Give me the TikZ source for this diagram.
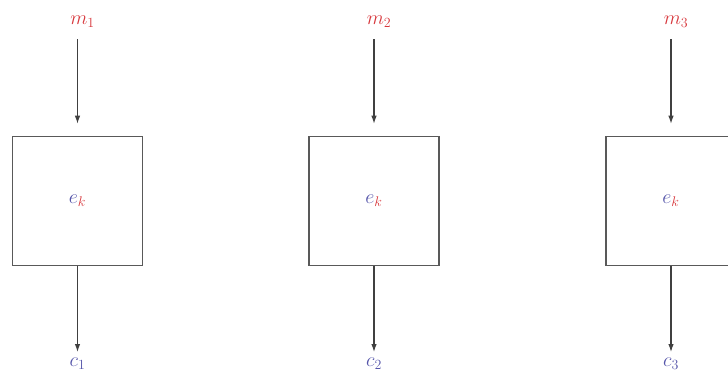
\documentclass[tikz,border=0pt]{standalone}
\usepackage{fix-cm}
\usetikzlibrary{arrows.meta}
\definecolor{mred}{RGB}{215,55,60}
\definecolor{mblue}{RGB}{85,85,170}
\tikzset{
  lbl/.style={inner sep=0pt, font=\fontsize{20}{24}\selectfont},
  encbox/.style={draw=black!65, line width=1.6pt, minimum width=130pt, minimum height=129pt, inner sep=0pt, font=\fontsize{20}{24}\selectfont},
  arr/.style={draw=black!75, line width=1.1pt, -{Latex[length=8pt,width=5.5pt]}}
}
\begin{document}
\begin{tikzpicture}[x=1pt,y=-1pt]
\useasboundingbox (0,0) rectangle (728,376);
\foreach \i/\x in {1/77.5,2/374,3/671}{
  \node[lbl, text=mred] (m\i) at (\x+5,22) {$m_{\i}$};
  \node[encbox] (b\i) at (\x,201) {$\textcolor{mblue}{e}_{\textcolor{mred}{k}}$};
  \node[lbl, text=mblue] (c\i) at (\x,364) {$c_{\i}$};
  \coordinate (t\i) at (\x,39);
  \coordinate (u\i) at (\x,352);
  \draw[arr] (t\i) -- ([yshift=12pt]b\i.north);
  \draw[arr] (b\i.south) -- (u\i);
}
\end{tikzpicture}
\end{document}
